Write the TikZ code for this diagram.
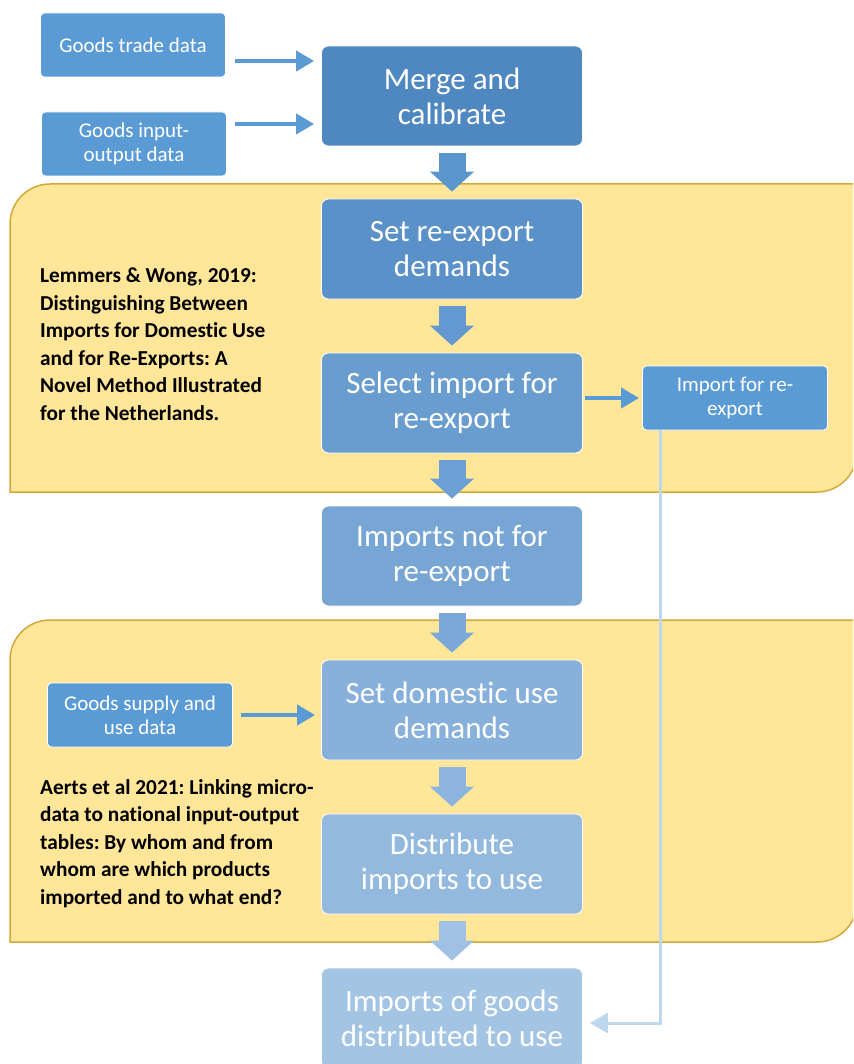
\documentclass[tikz,border=0pt]{standalone}
\usepackage{fontspec}
\setmainfont[Ligatures=NoCommon]{Carlito}
\usetikzlibrary{arrows.meta}
\frenchspacing
\definecolor{panelfill}{HTML}{FFE699}
\definecolor{paneledge}{HTML}{D4A93A}
\definecolor{datablue}{HTML}{5B9BD5}
\definecolor{linkblue}{HTML}{BDD7EE}
\definecolor{stepA}{HTML}{4F88C0}
\definecolor{stepB}{HTML}{5991C8}
\definecolor{stepC}{HTML}{699DCF}
\definecolor{stepD}{HTML}{78A6D4}
\definecolor{stepE}{HTML}{87B0DA}
\definecolor{stepF}{HTML}{94B9DE}
\definecolor{stepG}{HTML}{A4C4E4}
\definecolor{flowA}{HTML}{5A95CE}
\definecolor{flowB}{HTML}{6399D0}
\definecolor{flowC}{HTML}{6C9FD3}
\definecolor{flowD}{HTML}{7AA8D8}
\definecolor{flowE}{HTML}{8DB4DE}
\definecolor{flowF}{HTML}{A0C1E4}
\begin{document}
\begin{tikzpicture}[x=1pt,y=-1pt,
    stepbox/.style={draw=white,thick,rounded corners=7pt,minimum width=261pt,minimum height=100pt,align=center,text=white,font=\fontsize{31}{35}\selectfont},
    databox/.style={draw=white,thick,fill=datablue,rounded corners=4pt,minimum width=185pt,minimum height=64pt,align=center,text=white,font=\fontsize{21}{24}\selectfont},
    panel/.style={fill=panelfill,draw=paneledge,line width=1.5pt},
    note/.style={anchor=north west,align=left,inner sep=0pt,font=\bfseries\fontsize{21.3}{27.5}\selectfont},
    feed/.style={datablue,line width=4pt,-{Triangle[length=18pt,width=20pt]}},
    flow/.style={line width=27pt,-{Triangle[length=20pt,width=43pt]},shorten <=7pt,shorten >=7pt},
    link/.style={linkblue,line width=3pt,-{Triangle[length=18pt,width=20pt]}}]

  \useasboundingbox (0,0) rectangle (853,1064);
  \clip (0,0) rectangle (853,1064);

  % yellow panels
  \foreach \top/\bot in {184/492,620/942} {
    \draw[panel] (10,\bot) -- (10,\top+40) arc[start angle=180,end angle=270,radius=40]
      -- (857,\top) -- (857,\bot-40) arc[start angle=0,end angle=90,radius=40] -- cycle;
  }
  \node[note] (lemmers) at (40,268) {Lemmers \& Wong, 2019:\\Distinguishing Between\\Imports for Domestic Use\\and for Re-Exports: A\\Novel Method Illustrated\\for the Netherlands.};
  \node[note] (aerts) at (40,779) {Aerts et al 2021: Linking micro-\\data to national input-output\\tables: By whom and from\\whom are which products\\imported and to what end?};

  % main chain
  \foreach \name/\y/\txt/\col in {merge/96/{Merge and\\calibrate}/stepA,
                                  setre/249/{Set re-export\\demands}/stepB,
                                  select/403/{Select import for\\re-export}/stepC,
                                  notre/556/{Imports not for\\re-export}/stepD,
                                  setdom/710/{Set domestic use\\demands}/stepE,
                                  distr/864/{Distribute\\imports to use}/stepF,
                                  final/1018/{Imports of goods\\distributed to use}/stepG}
    \node[stepbox,fill=\col] (\name) at (452,\y) {\txt};

  \foreach \a/\b/\col in {merge/setre/flowA,setre/select/flowB,select/notre/flowC,
                          notre/setdom/flowD,setdom/distr/flowE,distr/final/flowF}
    \draw[flow,\col] (\a.south) -- (\b.north);

  % data sources
  \node[databox] (trade) at (133,45) {Goods trade data};
  \node[databox] (io) at (134,144) {Goods input-\\output data};
  \node[databox] (sut) at (140,715) {Goods supply and\\use data};
  \node[databox] (reimp) at (735,398) {Import for re-\\export};

  \coordinate (tradeout) at (235,61);
  \coordinate (ioout) at (235,124);
  \draw[feed,shorten >=7pt] (tradeout) -- (tradeout -| merge.west);
  \draw[feed,shorten >=7pt] (ioout) -- (ioout -| merge.west);
  \draw[feed,shorten <=8pt,shorten >=6pt] (sut.east) -- (sut.east -| setdom.west);
  \draw[feed,shorten <=2pt,shorten >=3pt] (select.east |- reimp.west) -- (reimp.west);

  \draw[link,shorten >=7pt] ([xshift=-75pt]reimp.south) |- ([yshift=-5pt]final.east);
\end{tikzpicture}
\end{document}
